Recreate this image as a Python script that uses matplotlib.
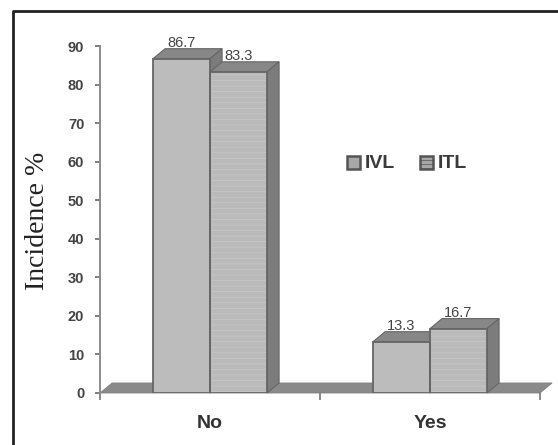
import matplotlib
matplotlib.use("Agg")
import matplotlib.pyplot as plt
from matplotlib.patches import Polygon, Rectangle

categories = ["No", "Yes"]
series_names = ["IVL", "ITL"]
ivl_values = [86.7, 13.3]
itl_values = [83.3, 16.7]
y_ticks = list(range(0, 100, 10))

W, H = 558, 445
bar_w = 0.259
dx, dy = 0.055, 2.6  # 3d offset in data units
front = "#bcbcbc"
top = "#878787"
side = "#7c7c7c"
edge = "#666666"
text_c = "#444444"

plt.rcParams["font.family"] = ["Liberation Sans", "DejaVu Sans"]
plt.rcParams["hatch.linewidth"] = 0.5

fig = plt.figure(figsize=(W / 100, H / 100), dpi=100)
ax = fig.add_axes([100 / W, 1 - 393 / H, 440 / W, 347 / H])
ax.set_xlim(-0.5, 1.5)
ax.set_ylim(0, 90)
ax.patch.set_visible(False)
for s in ["top", "right", "bottom"]:
    ax.spines[s].set_visible(False)
ax.spines["left"].set_color("#8c8c8c")
ax.spines["left"].set_linewidth(1.4)


def box3d(x_left, value, hatch=None):
    x_right = x_left + bar_w
    ax.add_patch(Polygon([(x_left, value), (x_left + dx, value + dy), (x_right + dx, value + dy), (x_right, value)],
                         fc=top, ec=edge, lw=0.8, clip_on=False, zorder=3))
    ax.add_patch(Polygon([(x_right, 0), (x_right + dx, dy), (x_right + dx, value + dy), (x_right, value)],
                         fc=side, ec=edge, lw=0.8, clip_on=False, zorder=3))
    if hatch:
        ax.bar(x_left, value, bar_w, align="edge", color="#bababa", edgecolor="#c8c8c8", hatch=hatch, lw=0, zorder=4)
    else:
        ax.bar(x_left, value, bar_w, align="edge", color=front, lw=0, zorder=4)
    ax.bar(x_left, value, bar_w, align="edge", fill=False, edgecolor=edge, lw=1.3, zorder=5)


# floor
ax.add_patch(Polygon([(-0.5, 0), (-0.5 + dx, dy), (1.5 + dx, dy), (1.5, 0)],
                     fc="#8a8a8a", ec="#808080", lw=0.6, clip_on=False, zorder=1))

for i in range(len(categories)):
    box3d(i - bar_w, ivl_values[i])
    box3d(i, itl_values[i], hatch="---")
    ax.text(i - bar_w / 2, ivl_values[i] + dy - 0.3, f"{ivl_values[i]}", ha="center", va="bottom",
            fontsize=10.5, color=text_c, zorder=6)
    ax.text(i + bar_w / 2, itl_values[i] + dy - 0.3, f"{itl_values[i]}", ha="center", va="bottom",
            fontsize=10.5, color=text_c, zorder=6)

ax.set_yticks(y_ticks)
ax.set_xticks([-0.5, 0.5, 1.5])
ax.set_xticklabels([])
ax.tick_params(axis="y", length=3.8, width=1.2, color="#666666", labelsize=10.5, labelcolor=text_c, pad=7.5)
ax.tick_params(axis="x", direction="out", length=5, width=1.2, color="#777777")
for lab in ax.get_yticklabels():
    lab.set_fontweight("bold")

for i, name in enumerate(categories):
    ax.text(i, -7.8, name, ha="center", va="center", fontsize=14, fontweight="bold", color="#333333")

fig.text(38 / W, 1 - 221 / H, "Incidence %", rotation=90, ha="center", va="center",
         fontsize=20, family="Liberation Serif", color="#222222")

# legend
for (sx, tx), name, hatch in zip([(347, 365), (420, 438)], series_names, [None, "----"]):
    fig.add_artist(Rectangle((sx / W, 1 - 169 / H), 13 / W, 13 / H, transform=fig.transFigure,
                             fc="#a8a8a8", ec="#555555", lw=1.8, hatch=hatch))
    fig.text(tx / W, 1 - 163 / H, name, ha="left", va="center", fontsize=14, fontweight="bold", color="#3a3a3a")

# outer frame, only top and left are in the picture
fig.add_artist(plt.Line2D([12.5 / W, 12.5 / W, 1], [0, 1 - 11 / H, 1 - 11 / H], transform=fig.transFigure,
                          color="#222222", lw=2))

fig.savefig("out.png", dpi=100)
